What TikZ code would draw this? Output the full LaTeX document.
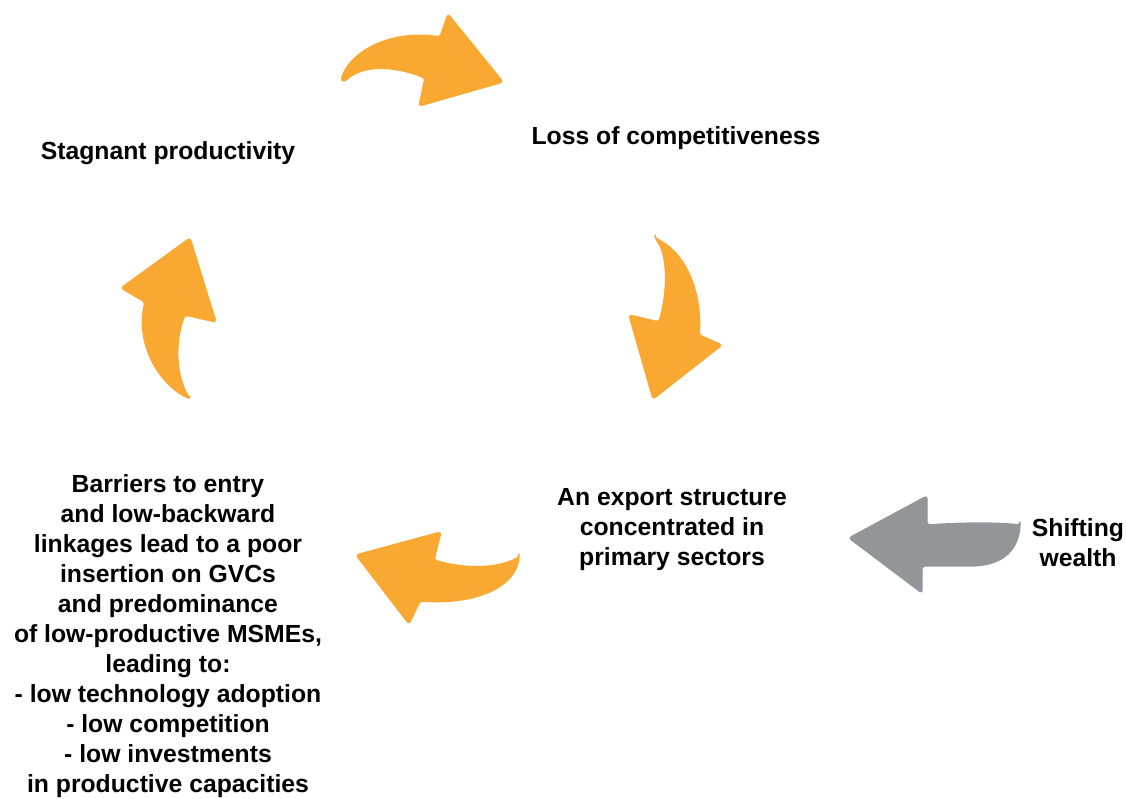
\documentclass[tikz,border=0pt]{standalone}
\usepackage{fontspec}
\setmainfont{Liberation Sans}
\usepackage{xcolor}
\definecolor{cycleorange}{HTML}{F9A832}
\definecolor{drivergray}{HTML}{939598}

\begin{document}
\begin{tikzpicture}[
  x=0.025cm, y=-0.025cm,
  label/.style={align=center, inner sep=0pt, font=\fontsize{17.6}{21.3}\selectfont\bfseries},
  blockarr/.style={fill=cycleorange, draw=cycleorange, line width=1pt, rounded corners=2pt, line join=round},
  driverarr/.style={blockarr, fill=drivergray, draw=drivergray}
]
  \useasboundingbox (0,0) rectangle (1126,799);

  % stages of the cycle
  \node[label] (stagnant) at (168,153) {Stagnant productivity};
  \node[label] (loss) at (676,138) {Loss of competitiveness};
  \node[label] (export) at (672,530) {An export structure\\concentrated in\\primary sectors};
  \node[label] (shifting) at (1078,543) {Shifting\\wealth};
  \node[label] (barriers) at (168,636) {Barriers to entry\\and low-backward\\linkages lead to a poor\\insertion on GVCs\\and predominance\\of low-productive MSMEs,\\leading to:\\- low technology adoption\\- low competition\\- low investments\\in productive capacities};

  % curved block arrows
  \filldraw[blockarr] (341,79) .. controls (353,48) and (395,30) .. (440,37)
    -- (448,14) -- (503,82) -- (419,106) -- (425,78)
    .. controls (400,68) and (365,62) .. (344,82) -- cycle;
  \filldraw[blockarr] (655,238) .. controls (690,255) and (702,300) .. (699,335)
    -- (722,345) -- (653,399) -- (629,315) -- (659,322)
    .. controls (668,290) and (668,255) .. cycle;
  \filldraw[blockarr] (519,557) .. controls (515,585) and (480,605) .. (420,601)
    -- (409,624) -- (356,555) -- (441,532) -- (434,560)
    .. controls (460,568) and (495,570) .. cycle;
  \filldraw[blockarr] (190,399) .. controls (160,385) and (135,345) .. (145,302)
    -- (121,288) -- (190,238) -- (216,322) -- (185,315)
    .. controls (175,340) and (175,375) .. cycle;

  % external driver
  \filldraw[driverarr] (1020,525) .. controls (1018,548) and (1005,565) .. (970,566)
    -- (922,566) -- (922,593) -- (849,538) -- (927,496) -- (927,525)
    .. controls (960,523) and (990,522) .. cycle;
\end{tikzpicture}
\end{document}
